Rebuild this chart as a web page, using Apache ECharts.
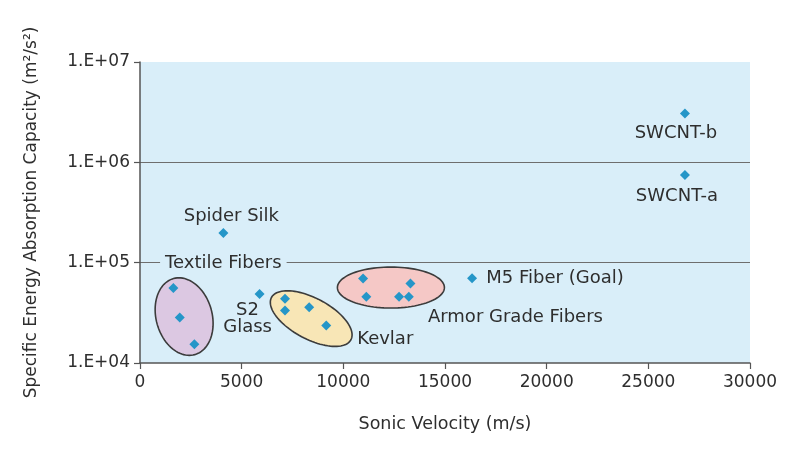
<!DOCTYPE html>
<html>
<head>
<meta charset="utf-8">
<script src="https://cdn.jsdelivr.net/npm/echarts@6/dist/echarts.min.js"></script>
<style>
html,body{margin:0;padding:0;background:#fff;}
#chart{width:801px;height:457px;}
</style>
</head>
<body>
<div id="chart"></div>
<script>
// ---- data ----
var pointNames = ['SWCNT-b','SWCNT-a','Spider Silk','Textile 1','Textile 2','Textile 3','S2 Glass','Kevlar 1','Kevlar 2','Kevlar 3','Kevlar 4','Armor 1','Armor 2','Armor 3','Armor 4','Armor 5','M5 Fiber (Goal)'];
var sonicVelocity = [26800, 26800, 4100, 1640, 1955, 2675, 5880, 7130, 7130, 8320, 9160, 10970, 11130, 13300, 12740, 13220, 16330];
var absorption = [3.06e6, 7.46e5, 1.97e5, 5.6e4, 2.84e4, 1.54e4, 4.87e4, 4.36e4, 3.34e4, 3.6e4, 2.37e4, 6.97e4, 4.57e4, 6.2e4, 4.57e4, 4.57e4, 7.0e4];
var labelTexts = ['SWCNT-b','SWCNT-a','Spider Silk','Textile Fibers','','','S2\nGlass','','','','Kevlar','','','Armor Grade Fibers','','','M5 Fiber (Goal)'];
var groupNames = ['Textile Fibers','Kevlar','Armor Grade Fibers'];
var groupCenterX = [2170, 8420, 12340];
var groupCenterY = [2.9e4, 2.77e4, 5.65e4];
var xTicks = ['0','5000','10000','15000','20000','25000','30000'];
var yTicks = ['1.E+04','1.E+05','1.E+06','1.E+07'];

// ---- styles (not data) ----
var FONT = 'DejaVu Sans';
var TXT = '#2e2e2e';
var labelOffsets = {
  'SWCNT-b': [-9, 20], 'SWCNT-a': [-8, 21], 'Spider Silk': [8, -17],
  'Textile Fibers': [50, -25], 'S2\nGlass': [-12, 25], 'Kevlar': [59, 14],
  'Armor Grade Fibers': [105, 34], 'M5 Fiber (Goal)': [83, 0]
};
var ellipseStyle = [
  {a: 28, b: 39.5, rot: -15.6, fill: '#dcc8e2'},
  {a: 45, b: 20.5, rot: 28, fill: '#f8e6b6'},
  {a: 53.5, b: 20.5, rot: 0, fill: '#f5c8c6'}
];

var scatterData = pointNames.map(function (n, i) {
  var item = {name: n, value: [sonicVelocity[i], absorption[i]]};
  var t = labelTexts[i];
  if (t) {
    var lab = {
      show: true, formatter: t, position: 'inside', offset: labelOffsets[t],
      color: TXT, textBorderWidth: 0, fontFamily: FONT, fontSize: 18, lineHeight: 17,
      align: 'center', verticalAlign: 'middle'
    };
    if (t === 'Textile Fibers') { lab.backgroundColor = '#d9eef9'; lab.padding = [1, 5]; }
    item.label = lab;
  } else {
    item.label = {show: false};
  }
  return item;
});

var ellipseData = groupNames.map(function (n, i) {
  return {name: n, value: [groupCenterX[i], groupCenterY[i], i]};
});

var chart = echarts.init(document.getElementById('chart'));
chart.setOption({
  backgroundColor: '#ffffff',
  animation: false,
  grid: {left: 140, right: 51, top: 62, bottom: 94, show: true, backgroundColor: '#d9eef9', borderWidth: 0},
  xAxis: {
    type: 'value', min: +xTicks[0], max: +xTicks[xTicks.length - 1], interval: xTicks[1] - xTicks[0],
    name: 'Sonic Velocity (m/s)', nameLocation: 'middle', nameGap: 52,
    nameTextStyle: {color: TXT, fontFamily: FONT, fontSize: 17.5},
    axisLine: {show: true, lineStyle: {color: '#555555', width: 1.5}},
    axisTick: {show: true, length: 6, lineStyle: {color: '#555555', width: 1.2}},
    axisLabel: {color: TXT, fontFamily: FONT, fontSize: 17, margin: 11,
      formatter: function (v) { var idx = xTicks.indexOf(String(v)); return idx >= 0 ? xTicks[idx] : ''; }},
    splitLine: {show: false}
  },
  yAxis: {
    type: 'log', logBase: 10, min: 1e4, max: 1e7,
    name: 'Specific Energy Absorption Capacity (m²/s²)', nameLocation: 'middle', nameGap: 100,
    nameTextStyle: {color: TXT, fontFamily: FONT, fontSize: 17},
    axisLine: {show: true, lineStyle: {color: '#555555', width: 1.5}},
    axisTick: {show: true, length: 6, lineStyle: {color: '#555555', width: 1.2}},
    axisLabel: {color: TXT, fontFamily: FONT, fontSize: 17, margin: 10,
      formatter: function (v) { var e = Math.round(Math.log10(v)); return yTicks[e - 4] || ''; }},
    splitLine: {show: true, showMinLine: false, showMaxLine: false, lineStyle: {color: '#6e6e6e', width: 1.2}}
  },
  series: [
    {
      type: 'custom', coordinateSystem: 'cartesian2d', z: 1, silent: true,
      data: ellipseData,
      renderItem: function (params, api) {
        var c = api.coord([api.value(0), api.value(1)]);
        var s = ellipseStyle[api.value(2)];
        var th = s.rot * Math.PI / 180, ct = Math.cos(th), st = Math.sin(th);
        var pts = [];
        for (var k = 0; k < 96; k++) {
          var t = k / 96 * Math.PI * 2;
          var px = s.a * Math.cos(t), py = s.b * Math.sin(t);
          pts.push([c[0] + px * ct - py * st, c[1] + px * st + py * ct]);
        }
        return {type: 'polygon', shape: {points: pts}, style: {fill: s.fill, stroke: '#3c3c3c', lineWidth: 1.6}};
      }
    },
    {
      type: 'scatter', z: 3, symbol: 'diamond', symbolSize: 10,
      itemStyle: {color: '#2596c8', opacity: 1},
      data: scatterData
    }
  ]
});
</script>
</body>
</html>
